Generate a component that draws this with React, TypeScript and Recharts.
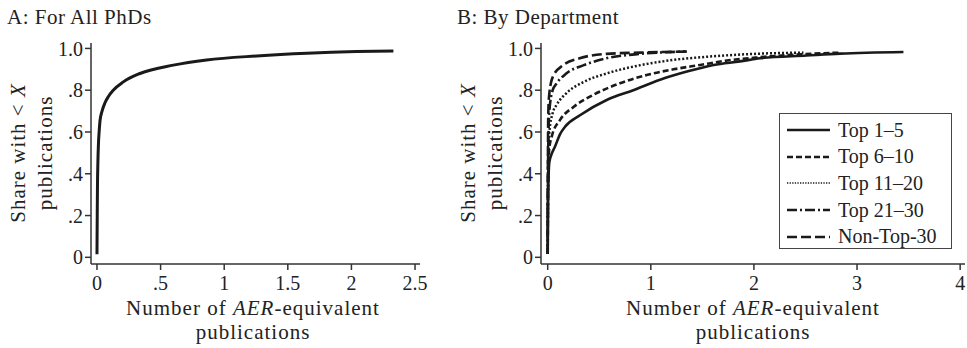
import React from "react";
import { LineChart, Line, XAxis, YAxis } from "recharts";

const FONT = "'Liberation Serif', Tinos, 'Times New Roman', 'DejaVu Serif', serif";
const INK = "#222";
const AXIS = "#333";

// Panel A: all PhDs
const allX = [0, 0.002, 0.004, 0.007, 0.012, 0.018, 0.024, 0.04, 0.063, 0.09, 0.128, 0.207, 0.338, 0.6, 0.862, 1.256, 1.65, 2.04, 2.33];
const allY = [0.015, 0.2, 0.35, 0.45, 0.55, 0.61, 0.655, 0.7, 0.74, 0.77, 0.8, 0.84, 0.88, 0.92, 0.945, 0.964, 0.977, 0.985, 0.988];

// Panel B: by department
const top1to5X = [0, 0.003, 0.008, 0.016, 0.035, 0.071, 0.12, 0.168, 0.313, 0.572, 0.83, 1.09, 1.35, 1.61, 1.865, 2.06, 2.51, 2.835, 3.45];
const top1to5Y = [0.016, 0.25, 0.38, 0.456, 0.49, 0.53, 0.59, 0.625, 0.68, 0.753, 0.8, 0.85, 0.889, 0.921, 0.938, 0.953, 0.966, 0.975, 0.983];

const top6to10X = [0, 0.003, 0.008, 0.015, 0.039, 0.12, 0.25, 0.44, 0.7, 0.96, 1.22, 1.48, 1.74, 2.06, 2.45, 2.84];
const top6to10Y = [0.016, 0.3, 0.45, 0.52, 0.578, 0.658, 0.72, 0.777, 0.833, 0.873, 0.9, 0.921, 0.942, 0.958, 0.972, 0.98];

const top11to20X = [0, 0.003, 0.008, 0.016, 0.048, 0.087, 0.18, 0.35, 0.57, 0.9, 1.22, 1.54, 2.06, 2.48];
const top11to20Y = [0.016, 0.35, 0.5, 0.6, 0.69, 0.73, 0.785, 0.84, 0.88, 0.92, 0.945, 0.96, 0.975, 0.98];

const top21to30X = [0, 0.003, 0.008, 0.016, 0.048, 0.087, 0.18, 0.35, 0.57, 0.9, 1.15, 1.35];
const top21to30Y = [0.016, 0.4, 0.6, 0.7, 0.8, 0.833, 0.88, 0.92, 0.953, 0.974, 0.982, 0.985];

const nonTop30X = [0, 0.002, 0.006, 0.016, 0.05, 0.15, 0.31, 0.57, 0.9, 1.35];
const nonTop30Y = [0.016, 0.45, 0.7, 0.785, 0.865, 0.92, 0.953, 0.974, 0.98, 0.985];

const seriesNames = ["Top 1\u20135", "Top 6\u201310", "Top 11\u201320", "Top 21\u201330", "Non-Top-30"];
const seriesDash = ["", "6 3", "2 2", "10 3 2 3", "10 4"];

const yTicks = [0, 0.2, 0.4, 0.6, 0.8, 1];
const xTicksA = [0, 0.5, 1, 1.5, 2, 2.5];
const xTicksB = [0, 1, 2, 3, 4];

const toPts = (xs: number[], ys: number[]) => xs.map((x, i) => ({ x, y: ys[i] }));

const seriesB = [
  toPts(top1to5X, top1to5Y),
  toPts(top6to10X, top6to10Y),
  toPts(top11to20X, top11to20Y),
  toPts(top21to30X, top21to30Y),
  toPts(nonTop30X, nonTop30Y),
];

const fmtY = (v: number) => (v === 0 ? "0" : v === 1 ? "1.0" : String(v).replace(/^0/, ""));
const fmtX = (v: number) => (v === 0 ? "0" : String(v).replace(/^0\./, "."));

const tickStyle = { fill: INK, fontSize: 20, fontFamily: FONT };

function axes(xDomain: [number, number], xTicks: number[]) {
  return [
    <XAxis
      key="x"
      dataKey="x"
      type="number"
      domain={xDomain}
      ticks={xTicks}
      allowDataOverflow
      tickFormatter={fmtX}
      tick={tickStyle}
      tickSize={6}
      tickMargin={6}
      height={84}
      stroke={AXIS}
      strokeWidth={1.5}
      interval={0}
    />,
    <YAxis
      key="y"
      type="number"
      domain={[-0.032, 1.026]}
      ticks={yTicks}
      allowDataOverflow
      tickFormatter={fmtY}
      tick={tickStyle}
      tickSize={6}
      tickMargin={2}
      width={91}
      stroke={AXIS}
      strokeWidth={1.5}
      interval={0}
    />,
  ];
}

function AxisTitles({ offset, cx }: { offset: number; cx: number }) {
  return (
    <g fontFamily={FONT} fontSize={21} fill={INK} letterSpacing={1}>
      <text transform="rotate(-90)" x={-153} y={offset + 25} textAnchor="middle">
        Share with {"<"} <tspan fontStyle="italic">X</tspan>
      </text>
      <text transform="rotate(-90)" x={-153} y={offset + 52} textAnchor="middle">
        publications
      </text>
      <text x={cx} y={315} textAnchor="middle">
        Number of <tspan fontStyle="italic">AER</tspan>-equivalent
      </text>
      <text x={cx} y={339} textAnchor="middle">
        publications
      </text>
    </g>
  );
}

export default function App() {
  return (
    <div style={{ position: "absolute", left: 0, top: 0, width: 967, height: 348, background: "#fff", fontFamily: FONT }}>
      <div style={{ position: "absolute", left: 0, top: 0 }}>
        <LineChart width={440} height={348} margin={{ top: 43, right: 20, bottom: 0, left: 0 }}>
          {axes([-0.047, 2.539], xTicksA)}
          <Line
            data={toPts(allX, allY)}
            dataKey="y"
            type="monotone"
            stroke="#1a1a1a"
            strokeWidth={3}
            dot={false}
            activeDot={false}
            isAnimationActive={false}
          />
        </LineChart>
      </div>
      <div style={{ position: "absolute", left: 450, top: 0 }}>
        <LineChart width={517} height={348} margin={{ top: 43, right: 2, bottom: 0, left: 0 }}>
          {axes([-0.065, 4.047], xTicksB)}
          {seriesB.map((d, i) => (
            <Line
              key={seriesNames[i]}
              data={d}
              dataKey="y"
              name={seriesNames[i]}
              type="monotone"
              stroke="#1a1a1a"
              strokeWidth={i === 2 ? 2.5 : 2.6}
              strokeDasharray={seriesDash[i] || undefined}
              dot={false}
              activeDot={false}
              isAnimationActive={false}
            />
          ))}
        </LineChart>
      </div>
      <svg width={967} height={348} style={{ position: "absolute", left: 0, top: 0, pointerEvents: "none" }}>
        <text x={7} y={24} fontFamily={FONT} fontSize={21} fill={INK} letterSpacing={0.5}>
          A: For All PhDs
        </text>
        <text x={457} y={24} fontFamily={FONT} fontSize={21} fill={INK} letterSpacing={0.5}>
          B: By Department
        </text>
        <AxisTitles offset={0} cx={253} />
        <AxisTitles offset={450} cx={753} />
      </svg>
      <div
        style={{
          position: "absolute",
          left: 779,
          top: 113,
          width: 173,
          height: 136,
          boxSizing: "border-box",
          border: "1.5px solid #444",
          background: "#fff",
          paddingTop: 3,
        }}
      >
        {seriesNames.map((n, i) => (
          <div key={n} style={{ height: 26.6, display: "flex", alignItems: "center" }}>
            <svg width={58} height={10} style={{ flex: "none" }}>
              <line
                x1={7}
                x2={50}
                y1={5}
                y2={5}
                stroke="#1a1a1a"
                strokeWidth={i === 2 ? 1.6 : 2.6}
                strokeDasharray={i === 2 ? "1.3 1.3" : seriesDash[i] || undefined}
              />
            </svg>
            <span style={{ fontFamily: FONT, fontSize: 20, color: INK, whiteSpace: "nowrap" }}>{n}</span>
          </div>
        ))}
      </div>
    </div>
  );
}
